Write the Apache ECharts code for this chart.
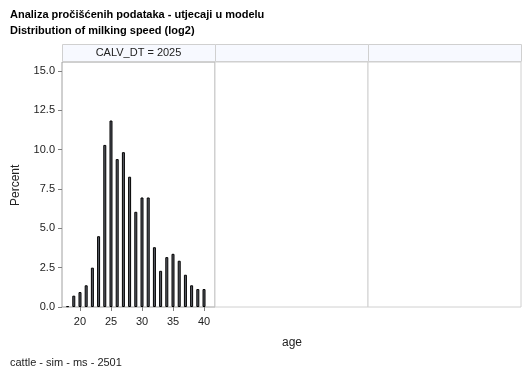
<!DOCTYPE html>
<html>
<head>
<meta charset="utf-8">
<script src="https://cdn.jsdelivr.net/npm/echarts@6/dist/echarts.min.js"></script>
<style>
  html, body { margin: 0; padding: 0; background: #fff; }
  #chart { width: 529px; height: 378px; }
</style>
</head>
<body>
<div id="chart"></div>
<script>
  // podaci: dob (age) i postotak
  var ages = [18, 19, 20, 21, 22, 23, 24, 25, 26, 27, 28, 29, 30, 31, 32, 33, 34, 35, 36, 37, 38, 39, 40]
  var percent = [0.05, 0.72, 0.95, 1.38, 2.5, 4.5, 10.3, 11.85, 9.4, 9.84, 8.28, 6.05, 6.96, 6.96, 3.8, 2.3, 3.17, 3.38, 2.94, 2.05, 1.38, 1.14, 1.14]
  var xTicks = [20, 25, 30, 35, 40]
  var yTicks = [0, 2.5, 5, 7.5, 10, 12.5, 15]
  var panelLabel = 'CALV_DT = 2025'

  var font = 'Liberation Sans, Arial, sans-serif'
  var myChart = echarts.init(document.getElementById('chart'))

  var panels = [
    { left: 62, border: '#a0a0a0' },
    { left: 215, border: '#d0d0d0' },
    { left: 368, border: '#d0d0d0' }
  ]

  var grids = panels.map(function (p) {
    return {
      left: p.left, top: 62, width: 153, height: 245,
      show: true, borderColor: p.border, borderWidth: 1,
      backgroundColor: '#fff'
    }
  })

  var xAxes = panels.map(function (p, i) {
    return {
      type: 'value', gridIndex: i, min: 17.1, max: 41.77,
      splitLine: { show: false },
      axisLine: { show: false },
      axisTick: { show: i === 0, length: 4, lineStyle: { color: '#808080' }, customValues: xTicks },
      axisLabel: { show: i === 0, color: '#222', fontSize: 11, fontFamily: font, margin: 9, customValues: xTicks }
    }
  })

  var yAxes = panels.map(function (p, i) {
    return {
      type: 'value', gridIndex: i, min: 0, max: 15.57,
      splitLine: { show: false },
      axisLine: { show: false },
      axisTick: { show: i === 0, length: 4, lineStyle: { color: '#808080' }, customValues: yTicks },
      axisLabel: {
        show: i === 0, color: '#222', fontSize: 11, fontFamily: font, margin: 7,
        customValues: yTicks,
        formatter: function (v) { return v.toFixed(1) }
      }
    }
  })

  var headers = []
  panels.forEach(function (p, i) {
    headers.push({
      type: 'rect',
      shape: { x: p.left + 0.5, y: 44.5, width: 153, height: 17 },
      style: { fill: '#f7f9ff', stroke: '#d0d0d0', lineWidth: 1 },
      z: 1
    })
  })
  headers.push({
    type: 'text', x: 62 + 76.5, y: 53, z: 2,
    style: { text: panelLabel, align: 'center', verticalAlign: 'middle', fill: '#222', font: '11px ' + font }
  })

  var option = {
    animation: false,
    title: [{
      text: 'Analiza pročišćenih podataka - utjecaji u modelu',
      left: 10, top: 9, padding: 0,
      textStyle: { fontSize: 11, fontWeight: 'bold', color: '#000', fontFamily: font }
    }, {
      text: 'Distribution of milking speed (log2)',
      left: 10, top: 25, padding: 0,
      textStyle: { fontSize: 11, fontWeight: 'bold', color: '#000', fontFamily: font }
    }, {
      text: 'cattle - sim - ms - 2501',
      left: 10, top: 357, padding: 0,
      textStyle: { fontSize: 11, fontWeight: 'normal', color: '#222', fontFamily: font }
    }, {
      text: 'age',
      left: 282, top: 337, padding: 0,
      textStyle: { fontSize: 12, fontWeight: 'normal', color: '#222', fontFamily: font }
    }],
    grid: grids,
    xAxis: xAxes,
    yAxis: yAxes,
    graphic: headers.concat([{
      type: 'text', rotation: Math.PI / 2, x: 10, y: 206,
      style: { text: 'Percent', fill: '#222', font: '12px ' + font }
    }]),
    series: [{
      type: 'bar',
      xAxisIndex: 0, yAxisIndex: 0,
      barWidth: 3,
      data: ages.map(function (a, i) { return [a, percent[i]] }),
      itemStyle: { color: '#5a5d66', borderColor: '#000', borderWidth: 1 }
    }]
  }

  myChart.setOption(option)
</script>
</body>
</html>
